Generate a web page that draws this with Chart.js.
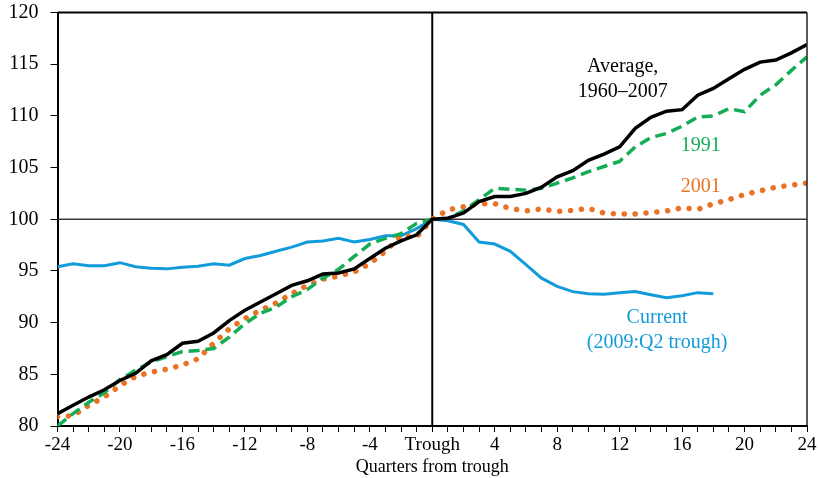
<!DOCTYPE html>
<html>
<head>
<meta charset="utf-8">
<script src="https://cdn.jsdelivr.net/npm/chart.js@4"></script>
<style>
  body { margin: 0; background: #fff; }
  #wrap { width: 818px; height: 478px; }
</style>
</head>
<body>
<div id="wrap"><canvas id="chart"></canvas></div>
<script>
// Quarters from trough (x axis)
const quarters = [-24, -23, -22, -21, -20, -19, -18, -17, -16, -15, -14, -13, -12, -11, -10, -9, -8, -7, -6, -5, -4, -3, -2, -1,
  0, 1, 2, 3, 4, 5, 6, 7, 8, 9, 10, 11, 12, 13, 14, 15, 16, 17, 18, 19, 20, 21, 22, 23, 24];

// Series values (index = 100 at trough)
const average = [81.2, 82.0, 82.8, 83.5, 84.4, 85.1, 86.3, 86.9, 88.0, 88.2, 89.0, 90.2, 91.2, 92.0, 92.8, 93.6, 94.05, 94.7, 94.8, 95.2, 96.2, 97.2, 97.9, 98.5,
  100, 100.1, 100.6, 101.7, 102.2, 102.2, 102.5, 103.1, 104.1, 104.7, 105.7, 106.3, 107.0, 108.8, 109.85, 110.45, 110.6, 112.0, 112.65, 113.6, 114.5, 115.2, 115.4, 116.1, 116.9];
const y1991 = [80.0, 81.2, 82.3, 83.2, 84.5, 85.4, 86.2, 86.7, 87.2, 87.3, 87.5, 88.6, 89.9, 90.9, 91.5, 92.5, 93.2, 94.3, 95.15, 96.4, 97.6, 98.15, 98.6, 99.6,
  100, 100.1, 100.8, 101.9, 103.0, 102.9, 102.8, 103.0, 103.5, 104.0, 104.6, 105.1, 105.6, 107.0, 107.9, 108.3, 109.0, 109.9, 110.0, 110.7, 110.4, 112.0, 113.0, 114.4, 115.7];
const y2001 = [80.9, 81.0, 82.0, 82.8, 83.9, 84.8, 85.2, 85.5, 85.9, 86.5, 88.0, 89.4, 90.4, 91.2, 91.9, 92.8, 93.6, 94.2, 94.5, 94.9, 95.7, 96.9, 98.4, 98.3,
  100, 100.9, 101.2, 101.5, 101.5, 101.05, 100.8, 101.0, 100.75, 100.85, 101.05, 100.6, 100.5, 100.5, 100.65, 100.8, 101.1, 100.95, 101.5, 101.9, 102.4, 102.75, 103.1, 103.3, 103.5];
const current = [95.4, 95.7, 95.5, 95.5, 95.8, 95.4, 95.25, 95.2, 95.35, 95.45, 95.7, 95.55, 96.2, 96.5, 96.9, 97.3, 97.8, 97.9, 98.15, 97.8, 98.05, 98.4, 98.4, 99.1,
  100, 99.85, 99.5, 97.8, 97.6, 96.9, 95.6, 94.3, 93.5, 93.0, 92.8, 92.75, 92.9, 93.0, 92.7, 92.4, 92.6, 92.9, 92.8];

// Tick labels shown every four quarters
const xTickLabels = { "-24": "-24", "-20": "-20", "-16": "-16", "-12": "-12", "-8": "-8", "-4": "-4", "0": "Trough",
  "4": "4", "8": "8", "12": "12", "16": "16", "20": "20", "24": "24" };

// Text labels on the chart: [text, quarter, value, colour]
const notes = [
  ["Average,", 12.2, 114.8, "#000000"],
  ["1960\u20132007", 12.2, 112.3, "#000000"],
  ["1991", 17.2, 107.1, "#13AD55"],
  ["2001", 17.2, 103.1, "#EB7125"],
  ["Current", 14.4, 90.45, "#129BDB"],
  ["(2009:Q2 trough)", 14.4, 88.1, "#129BDB"]
];

const toPoints = (values) => values.map((v, i) => ({ x: quarters[i], y: v }));
const serif = "'Liberation Serif', 'Times New Roman', serif";

// Marco, linea de tendencia 100, linea del valle y textos
const overlay = {
  id: "overlay",
  beforeDatasetsDraw(chart) {
    const { ctx, chartArea: a, scales: { x, y } } = chart;
    ctx.save();
    ctx.strokeStyle = "#3a3a3a";
    ctx.lineWidth = 1.5;
    const y100 = y.getPixelForValue(100);
    ctx.beginPath(); ctx.moveTo(a.left, y100); ctx.lineTo(a.right, y100); ctx.stroke();
    ctx.strokeStyle = "#000";
    ctx.lineWidth = 2;
    const x0 = x.getPixelForValue(0);
    ctx.beginPath(); ctx.moveTo(x0, a.top); ctx.lineTo(x0, a.bottom); ctx.stroke();
    ctx.restore();
  },
  afterDatasetsDraw(chart) {
    const { ctx, chartArea: a, scales: { x, y } } = chart;
    ctx.save();
    ctx.strokeStyle = "#000";
    ctx.lineWidth = 2;
    ctx.beginPath(); ctx.moveTo(a.left, a.top); ctx.lineTo(a.right, a.top); ctx.stroke();
    ctx.lineWidth = 1.5;
    ctx.strokeStyle = "#222";
    ctx.beginPath(); ctx.moveTo(a.right, a.top); ctx.lineTo(a.right, a.bottom); ctx.stroke();
    ctx.font = "20px " + serif;
    ctx.textAlign = "center";
    ctx.textBaseline = "middle";
    notes.forEach(([text, q, v, color]) => {
      ctx.fillStyle = color;
      ctx.fillText(text, x.getPixelForValue(q), y.getPixelForValue(v));
    });
    ctx.restore();
  }
};

new Chart(document.getElementById("chart"), {
  type: "line",
  data: {
    datasets: [
      { label: "Average, 1960-2007", data: toPoints(average), borderColor: "#000000", borderWidth: 3.5, order: 0 },
      { label: "1991", data: toPoints(y1991), borderColor: "#13AD55", borderWidth: 3.5, borderDash: [11, 6], order: 1 },
      { label: "2001", data: toPoints(y2001), borderColor: "#EB7125", borderWidth: 5.5, borderDash: [0.1, 10.8], borderCapStyle: "round", order: 2 },
      { label: "Current", data: toPoints(current), borderColor: "#129BDB", borderWidth: 3, order: 3 }
    ]
  },
  options: {
    responsive: true,
    maintainAspectRatio: false,
    animation: false,
    layout: { padding: { top: 12.5, right: 11, left: 0, bottom: 0 } },
    elements: { point: { radius: 0 }, line: { tension: 0 } },
    plugins: { legend: { display: false }, tooltip: { enabled: false } },
    scales: {
      x: {
        type: "linear",
        min: -24,
        max: 24,
        afterFit: (scale) => { scale.height = 52; scale.paddingRight = 0; scale.paddingLeft = 0; },
        border: { display: true, color: "#000", width: 2 },
        grid: { drawOnChartArea: false, drawTicks: true, tickLength: 6, color: "#000", lineWidth: 1 },
        ticks: {
          stepSize: 1,
          autoSkip: false,
          maxRotation: 0,
          padding: 2,
          color: "#000",
          font: { family: serif, size: 19 },
          callback: (value) => xTickLabels[String(value)] ?? ""
        },
        title: { display: true, text: "Quarters from trough", color: "#000", font: { family: serif, size: 18 }, padding: 0 }
      },
      y: {
        min: 80,
        max: 120,
        afterFit: (scale) => { scale.width = 57.5; scale.paddingTop = 0; scale.paddingBottom = 0; },
        border: { display: true, color: "#000", width: 2 },
        grid: { drawOnChartArea: false, drawTicks: true, tickLength: 7, color: "#000", lineWidth: 1 },
        ticks: { stepSize: 5, padding: 12, color: "#000", font: { family: serif, size: 20 } }
      }
    }
  },
  plugins: [overlay]
});
</script>
</body>
</html>
